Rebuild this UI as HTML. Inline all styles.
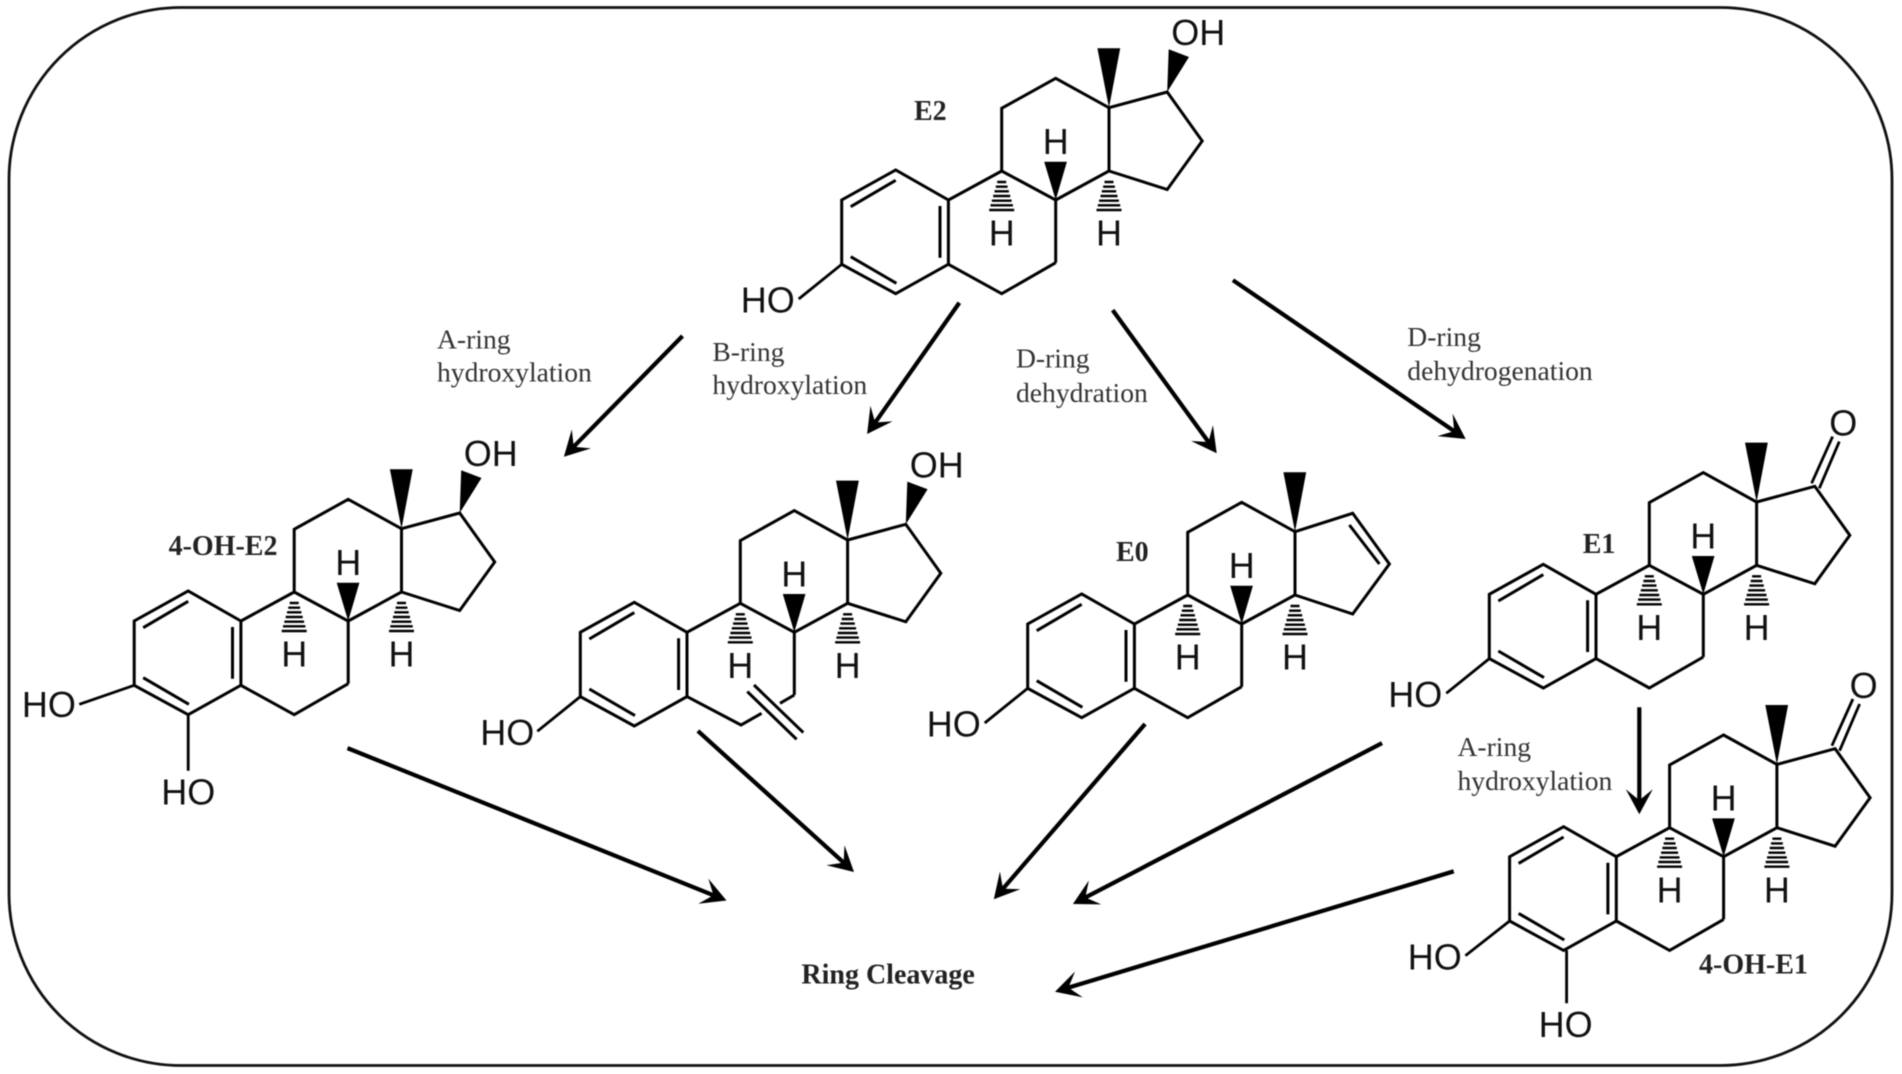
<!DOCTYPE html>
<html lang="en">
<head>
<meta charset="utf-8">
<title>Estradiol degradation pathways</title>
<style>
html,body{margin:0;padding:0;background:#fff;width:1902px;height:1074px;overflow:hidden}
svg{display:block;filter:blur(.45px)}
.a{font-family:"Liberation Sans",sans-serif;font-size:36px;fill:#111;text-anchor:middle}
.b{font-family:"Liberation Serif",serif;font-size:28px;font-weight:bold;fill:#222}
.t{font-family:"Liberation Serif",serif;font-size:27.6px;fill:#333}
</style>
</head>
<body>
<svg xmlns="http://www.w3.org/2000/svg" width="1902" height="1074" viewBox="0 0 1902 1074">
<defs>
<g id="hash">
<path fill="none" stroke="#000" stroke-width="2.4" d="M-4.5,11H4.5M-5.9,15.7H5.9M-7.2,20.3H7.2M-8.5,25H8.5M-9.9,29.7H9.9M-11.2,34.3H11.2M-12.5,39H12.5"/>
</g>
<g id="core">
<path fill="none" stroke="#000" stroke-width="3" stroke-linejoin="miter" d="M-107.3,0L-160,-30L-214,0V64.3L-160,93.7L-107.3,64.3V0L-54,-29L0,0V62.7M0,0L53.3,-29V-92.3L0,-121.7L-54,-91.7V-29M-205,6.7L-160,-19.7M-205,56.7L-159.3,83.3M-115.7,6V57.7"/>
<path d="M53.3,-92.3L41.7,-151.7H64.5ZM0,0L-11.5,-38.3H11.2Z" fill="#000"/>
<use href="#hash" transform="translate(-54,-29)"/>
<use href="#hash" transform="translate(53.3,-29)"/>
</g>
<path id="b6" fill="none" stroke="#000" stroke-width="3" d="M-107.3,64.3L-54,93.7L0,62.7"/>
<path id="dring" fill="none" stroke="#000" stroke-width="3" d="M53.3,-92.3L111.5,-108L146.5,-59L111.5,-10.5L53.3,-29"/>
<path id="ohw" d="M111.5,-108L113,-150.7L133.3,-143Z" fill="#000"/>
<path id="ho3" fill="none" stroke="#000" stroke-width="2.8" d="M-214,64.3L-257,99"/>
<path id="co" fill="none" stroke="#000" stroke-width="2.8" d="M108.3,-111L129.3,-157.7M116,-106L136,-152.7"/>
<g id="head"><path d="M0,0L-25,-13.5L-14,0L-25,13.5Z" fill="#000"/></g>
</defs>

<rect x="0" y="0" width="1902" height="1074" fill="#fff"/>
<rect x="9" y="7.5" width="1883" height="1058" rx="172" ry="172" fill="none" stroke="#111" stroke-width="2.8"/>

<!-- E2 -->
<g transform="translate(1055.7,200)">
<use href="#core"/><use href="#b6"/><use href="#dring"/><use href="#ohw"/><use href="#ho3"/>
<text class="a" x="142.5" y="-155">OH</text>
<text class="a" x="-288" y="112.5">HO</text>
<text class="a" x="0" y="-46">H</text>
<text class="a" x="-54" y="45.7">H</text>
<text class="a" x="53.3" y="45.7">H</text>
</g>

<!-- 4-OH-E2 -->
<g transform="translate(348.2,621)">
<use href="#core"/><use href="#b6"/><use href="#dring"/><use href="#ohw"/>
<path fill="none" stroke="#000" stroke-width="2.8" d="M-214,64.3L-268.9,83.3M-160,93.7V149.7"/>
<text class="a" x="142.5" y="-155">OH</text>
<text class="a" x="-299.3" y="96">HO</text>
<text class="a" x="-160" y="183.5">HO</text>
<text class="a" x="0" y="-46">H</text>
<text class="a" x="-54" y="45.7">H</text>
<text class="a" x="53.3" y="45.7">H</text>
</g>

<!-- B-ring product -->
<g transform="translate(794.3,632.3)">
<use href="#core"/><use href="#dring"/><use href="#ohw"/><use href="#ho3"/>
<path fill="none" stroke="#000" stroke-width="3" d="M-107.3,64.3L-53.3,92.7L-32.7,81M-14.3,71L0,62.7M-47,59.3L2.3,107M-40.3,52.7L9,100.3"/>
<text class="a" x="142.5" y="-155">OH</text>
<text class="a" x="-287" y="112.5">HO</text>
<text class="a" x="0" y="-46">H</text>
<text class="a" x="-54" y="45.7">H</text>
<text class="a" x="53.3" y="45.7">H</text>
</g>

<!-- E0 -->
<g transform="translate(1241.7,624)">
<use href="#core"/><use href="#b6"/><use href="#ho3"/>
<path fill="none" stroke="#000" stroke-width="3" d="M53.3,-92.3L111,-110.7L147.7,-60L111,-10L53.3,-29M107.7,-99L137.7,-60"/>
<text class="a" x="-288" y="112.5">HO</text>
<text class="a" x="0" y="-46">H</text>
<text class="a" x="-54" y="45.7">H</text>
<text class="a" x="53.3" y="45.7">H</text>
</g>

<!-- E1 -->
<g transform="translate(1703.3,594.3)">
<use href="#core"/><use href="#b6"/><use href="#dring"/><use href="#ho3"/><use href="#co"/>
<text class="a" x="140" y="-158.7">O</text>
<text class="a" x="-288" y="112.5">HO</text>
<text class="a" x="0" y="-46">H</text>
<text class="a" x="-54" y="45.7">H</text>
<text class="a" x="53.3" y="45.7">H</text>
</g>

<!-- 4-OH-E1 -->
<g transform="translate(1723.6,856.7)">
<use href="#core"/><use href="#b6"/><use href="#dring"/><use href="#co"/>
<path fill="none" stroke="#000" stroke-width="2.8" d="M-214,64.3L-258.2,99M-157,93.7V146.6"/>
<text class="a" x="140" y="-158.7">O</text>
<text class="a" x="-288.9" y="112.8">HO</text>
<text class="a" x="-158" y="180.3">HO</text>
<text class="a" x="0" y="-46">H</text>
<text class="a" x="-54" y="45.7">H</text>
<text class="a" x="53.3" y="45.7">H</text>
</g>

<!-- Arrows -->
<g stroke="#000" stroke-width="4.2" fill="none">
<g transform="translate(563.9,456.7) rotate(134.5)"><path d="M-169.2,0H-14"/><use href="#head" stroke="none"/></g>
<g transform="translate(867.1,434) rotate(125.1)"><path d="M-160.4,0H-14"/><use href="#head" stroke="none"/></g>
<g transform="translate(1216.7,453.3) rotate(54)"><path d="M-177,0H-14"/><use href="#head" stroke="none"/></g>
<g transform="translate(1465.7,439) rotate(34.3)"><path d="M-281.8,0H-14"/><use href="#head" stroke="none"/></g>
<g transform="translate(1639.3,814.3) rotate(90)"><path d="M-107,0H-14"/><use href="#head" stroke="none"/></g>
<g transform="translate(726.5,900.5) rotate(21.9)"><path d="M-408.5,0H-14"/><use href="#head" stroke="none"/></g>
<g transform="translate(854,872) rotate(42.1)"><path d="M-210.4,0H-14"/><use href="#head" stroke="none"/></g>
<g transform="translate(993.8,899.3) rotate(130.8)"><path d="M-231.5,0H-14"/><use href="#head" stroke="none"/></g>
<g transform="translate(1072.9,904) rotate(152.5)"><path d="M-348.5,0H-14"/><use href="#head" stroke="none"/></g>
<g transform="translate(1055,991.7) rotate(163.2)"><path d="M-416.5,0H-14"/><use href="#head" stroke="none"/></g>
</g>

<!-- Labels -->
<text class="b" x="914" y="120">E2</text>
<text class="b" x="168.6" y="555">4-OH-E2</text>
<text class="b" x="1116" y="561">E0</text>
<text class="b" x="1582.7" y="553">E1</text>
<text class="b" x="1699" y="973.5">4-OH-E1</text>
<text class="b" x="801.4" y="983.5">Ring Cleavage</text>

<text class="t" x="437" y="348.3">A-ring</text>
<text class="t" x="437" y="381.5">hydroxylation</text>
<text class="t" x="712.4" y="361">B-ring</text>
<text class="t" x="712.4" y="394">hydroxylation</text>
<text class="t" x="1016" y="367.7">D-ring</text>
<text class="t" x="1016" y="402">dehydration</text>
<text class="t" x="1407.3" y="346">D-ring</text>
<text class="t" x="1407.3" y="380">dehydrogenation</text>
<text class="t" x="1457.5" y="756">A-ring</text>
<text class="t" x="1457.5" y="790">hydroxylation</text>
</svg>
</body>
</html>
